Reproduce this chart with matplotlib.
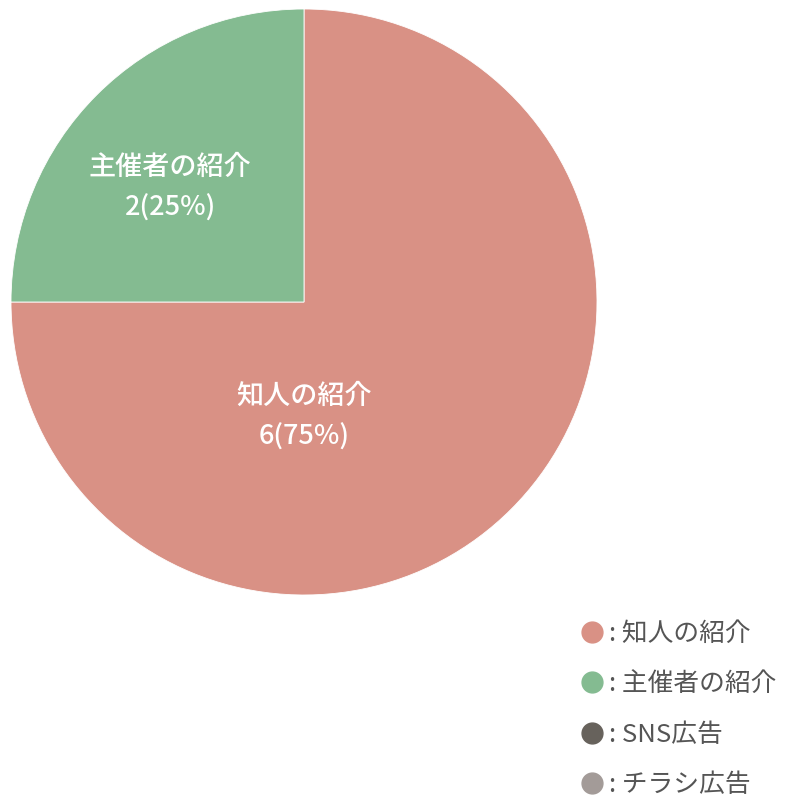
import matplotlib.pyplot as plt
from matplotlib.lines import Line2D

plt.rcParams['font.family'] = ['Noto Sans CJK JP', 'DejaVu Sans']

# Data
categories = ["知人の紹介", "主催者の紹介", "SNS広告", "チラシ広告"]
counts = [6, 2, 0, 0]
colors = ["#D99185", "#84BB91", "#67625C", "#A39B98"]

total = sum(counts)

fig = plt.figure(figsize=(7.87, 8.01), dpi=100)

# Pie
ax = fig.add_axes([11 / 787, 206 / 801, 586 / 787, 586 / 801])
shown = [(c, v, col) for c, v, col in zip(categories, counts, colors) if v > 0]
ax.pie([v for _, v, _ in shown],
       colors=[col for _, _, col in shown],
       startangle=90,
       counterclock=False,
       radius=1.0,
       wedgeprops=dict(linewidth=0.6, edgecolor="white"))
ax.set_xlim(-1, 1)
ax.set_ylim(-1, 1)
ax.set_aspect("equal")

# slice labels
label_pos = [(0.0, -0.392), (-0.457, 0.39)]
for (name, v, _), (x, y) in zip(shown, label_pos):
    pct = v / total * 100
    ax.text(x, y, f"{name}\n{v}({pct:.0f}%)",
            ha="center", va="center", color="white",
            fontsize=19.5, fontweight="medium", linespacing=1.65)

# Legend
handles = [Line2D([], [], marker="o", linestyle="none", markersize=15,
                  markerfacecolor=col, markeredgecolor=col)
           for col in colors]
fig.legend(handles, [f": {c}" for c in categories],
           loc="upper left", bbox_to_anchor=(582 / 787, 1 - 621 / 801),
           frameon=False, fontsize=18.5, labelcolor="#555555",
           handlelength=0.8, handletextpad=0.25, labelspacing=0.95,
           borderpad=0, borderaxespad=0)

plt.savefig("out.png", dpi=100)
